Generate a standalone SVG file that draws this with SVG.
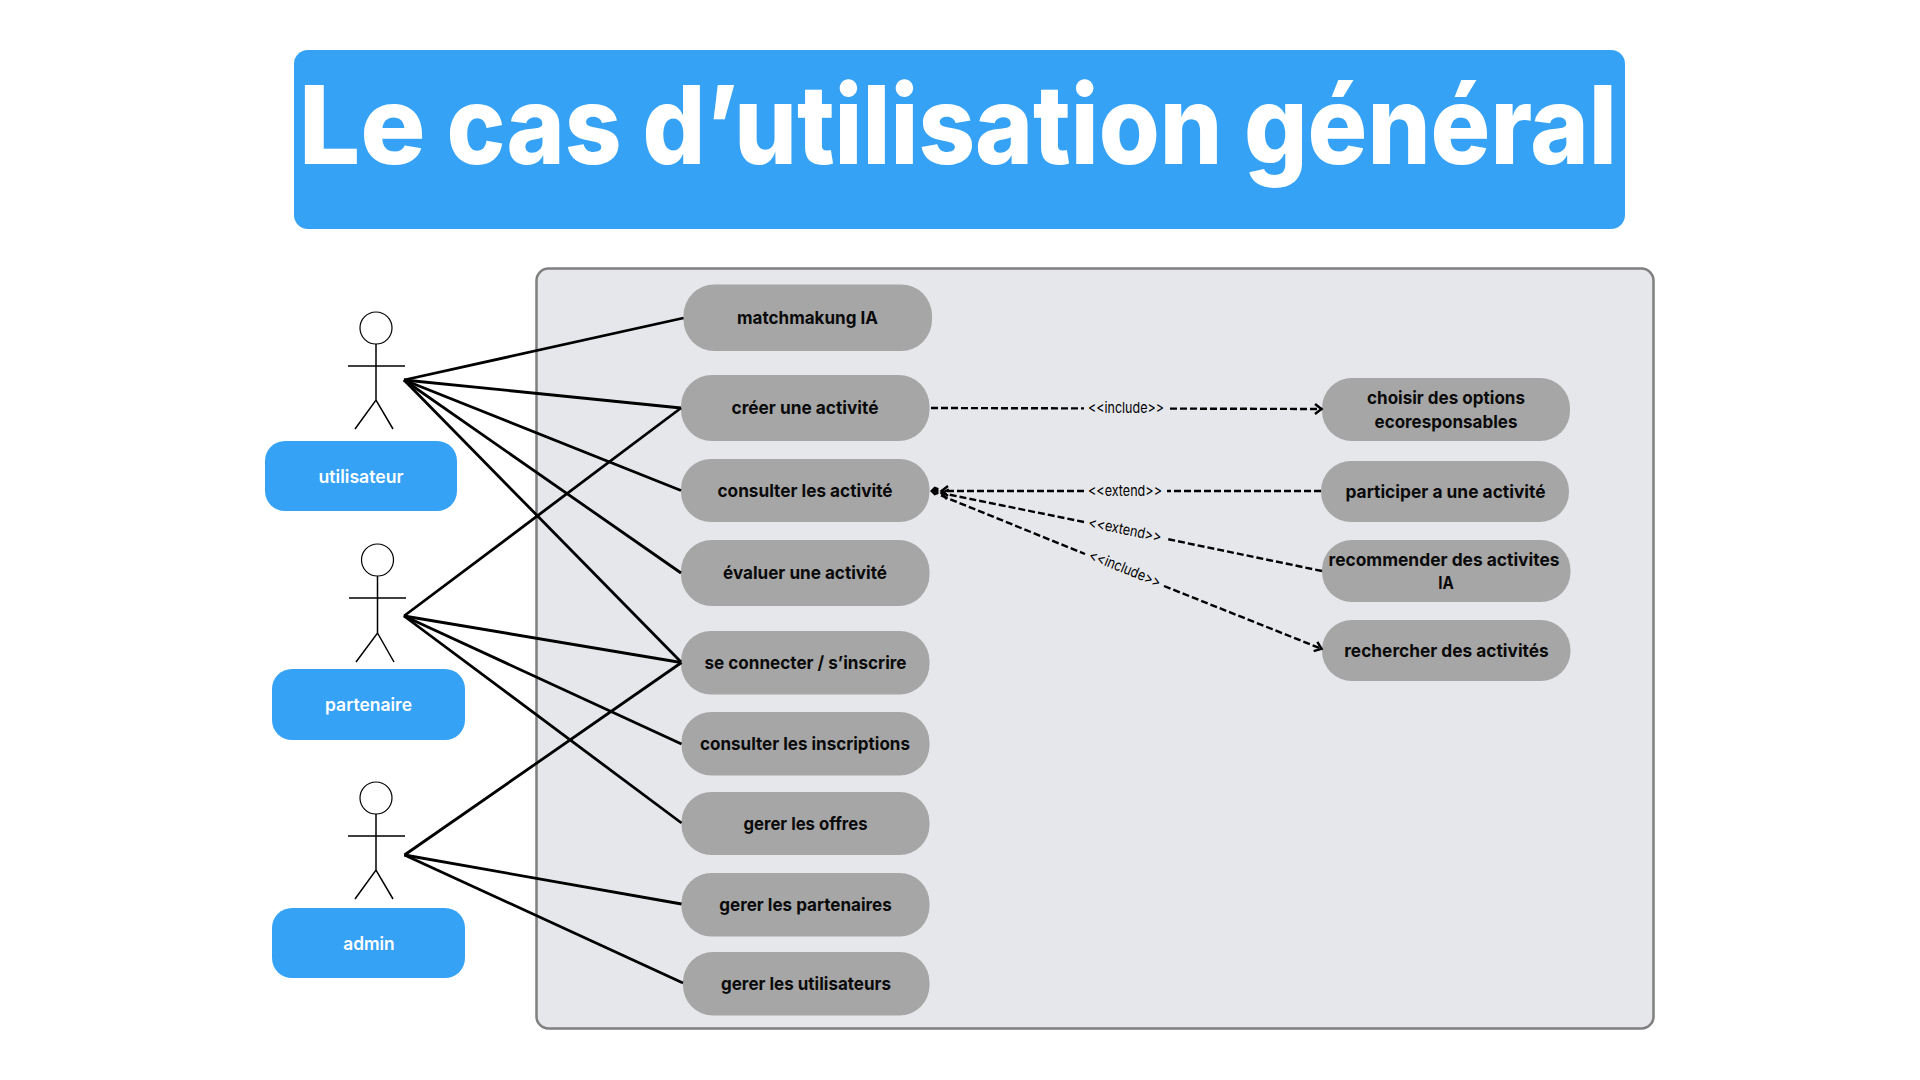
<svg xmlns="http://www.w3.org/2000/svg" width="1920" height="1080" viewBox="0 0 1920 1080">
<style>
text{font-family:"Inter","Liberation Sans",sans-serif;text-anchor:middle}
.t{font-size:109px;font-weight:800;fill:#fff;text-anchor:start}
.u{fill:#a6a6a6}
.ul{font-size:18px;font-weight:700;fill:#0a0a0a;transform:translateY(.5px)}
.b{fill:#36a2f6}
.bl{font-size:18px;font-weight:600;fill:#fff;transform:translateY(.5px)}
.a{fill:none;stroke:#000;stroke-width:1.5}
.ah{fill:#fff;stroke:#000;stroke-width:1.2}
.c line{stroke:#000;stroke-width:2.8}
.d line{stroke:#000;stroke-width:2.4;stroke-dasharray:7 3}
.l{font-size:15px;font-weight:400;fill:#000}
</style>
<defs>
<marker id="h" markerUnits="userSpaceOnUse" markerWidth="12" markerHeight="14" refX="10" refY="7" orient="auto"><path d="M3 2L9.500 7L3 12" fill="none" stroke="#000" stroke-width="2.400"/></marker>
</defs>
<rect width="1920" height="1080" fill="#fff"/>
<g id="title"><rect x="294" y="50" width="1331" height="179" rx="14" class="b"/><text y="163.500" class="t"><tspan x="298.700" textLength="127" lengthAdjust="spacingAndGlyphs">Le</tspan> <tspan x="446.500" textLength="175" lengthAdjust="spacingAndGlyphs">cas</tspan> <tspan x="642.500" textLength="580" lengthAdjust="spacingAndGlyphs">d’utilisation</tspan> <tspan x="1244" textLength="373" lengthAdjust="spacingAndGlyphs">général</tspan></text></g>
<rect id="frame" x="536.500" y="268.500" width="1117" height="760" rx="12" fill="#e6e7eb" stroke="#7f7f7f" stroke-width="2.500"/>
<g id="n1"><rect x="683.500" y="284.500" width="248.500" height="66.500" rx="31" class="u"/><text x="807.500" y="323" class="ul" textLength="141" lengthAdjust="spacingAndGlyphs">matchmakung IA</text></g>
<g id="n2"><rect x="681" y="375" width="248.500" height="66" rx="31" class="u"/><text x="805" y="413" class="ul" textLength="147" lengthAdjust="spacingAndGlyphs">créer une activité</text></g>
<g id="n3"><rect x="681" y="459" width="248.500" height="63" rx="30" class="u"/><text x="805" y="496" class="ul" textLength="175" lengthAdjust="spacingAndGlyphs">consulter les activité</text></g>
<g id="n4"><rect x="681" y="540" width="248.500" height="66" rx="31" class="u"/><text x="805" y="578" class="ul" textLength="164" lengthAdjust="spacingAndGlyphs">évaluer une activité</text></g>
<g id="n5"><rect x="681" y="631" width="248.500" height="63.500" rx="30" class="u"/><text x="805.500" y="668" class="ul" textLength="202" lengthAdjust="spacingAndGlyphs">se connecter / s’inscrire</text></g>
<g id="n6"><rect x="681.500" y="712" width="248" height="63.500" rx="30" class="u"/><text x="805" y="749" class="ul" textLength="210" lengthAdjust="spacingAndGlyphs">consulter les inscriptions</text></g>
<g id="n7"><rect x="681.500" y="792" width="248" height="63" rx="30" class="u"/><text x="805.500" y="829" class="ul" textLength="124" lengthAdjust="spacingAndGlyphs">gerer les offres</text></g>
<g id="n8"><rect x="681.500" y="873" width="248" height="63.500" rx="30" class="u"/><text x="805.500" y="910" class="ul" textLength="172.500" lengthAdjust="spacingAndGlyphs">gerer les partenaires</text></g>
<g id="n9"><rect x="683" y="952" width="246.500" height="63.500" rx="30" class="u"/><text x="806" y="989" class="ul" textLength="170" lengthAdjust="spacingAndGlyphs">gerer les utilisateurs</text></g>
<g id="r1"><rect x="1322" y="378" width="248" height="63" rx="30" class="u"/><text x="1446" y="403" class="ul" textLength="158" lengthAdjust="spacingAndGlyphs">choisir des options</text><text x="1446" y="427" class="ul" textLength="143" lengthAdjust="spacingAndGlyphs">ecoresponsables</text></g>
<g id="r2"><rect x="1321" y="461" width="248" height="61" rx="30" class="u"/><text x="1445.500" y="497" class="ul" textLength="200" lengthAdjust="spacingAndGlyphs">participer a une activité</text></g>
<g id="r3"><rect x="1322" y="540" width="248.500" height="62" rx="30" class="u"/><text x="1444" y="565" class="ul" textLength="231" lengthAdjust="spacingAndGlyphs">recommender des activites</text><text x="1446" y="588" class="ul" textLength="15.600" lengthAdjust="spacingAndGlyphs">IA</text></g>
<g id="r4"><rect x="1322" y="620" width="248.500" height="61" rx="30" class="u"/><text x="1446.500" y="656" class="ul" textLength="204.500" lengthAdjust="spacingAndGlyphs">rechercher des activités</text></g>
<g id="actor1"><ellipse cx="376" cy="328" rx="16" ry="16" class="ah"/><path class="a" d="M376 344V400M348 366H405M355 429L376 400L393 429"/></g>
<g id="actor2"><ellipse cx="377.500" cy="560" rx="16" ry="16" class="ah"/><path class="a" d="M377.500 576V633M349 598H406M356 662L377.500 633L394 662"/></g>
<g id="actor3"><ellipse cx="376" cy="798" rx="16" ry="16" class="ah"/><path class="a" d="M376 814V870M348 836H405M355 899L376 870L393 899"/></g>
<g id="b1"><rect x="265" y="441" width="192" height="70" rx="20" class="b"/><text x="361" y="482" class="bl" textLength="85" lengthAdjust="spacingAndGlyphs">utilisateur</text></g>
<g id="b2"><rect x="272" y="669" width="193" height="71" rx="20" class="b"/><text x="368.500" y="710" class="bl" textLength="87" lengthAdjust="spacingAndGlyphs">partenaire</text></g>
<g id="b3"><rect x="272" y="908" width="193" height="70" rx="20" class="b"/><text x="369" y="949" class="bl" textLength="51.400" lengthAdjust="spacingAndGlyphs">admin</text></g>
<g id="connectors">
<g class="c">
<line x1="404" y1="380" x2="683.500" y2="318"/>
<line x1="404" y1="380" x2="681" y2="408"/>
<line x1="404" y1="380" x2="681" y2="490.500"/>
<line x1="404" y1="380" x2="681" y2="573"/>
<line x1="404" y1="380" x2="681" y2="662"/>
<line x1="404" y1="616" x2="681" y2="408"/>
<line x1="404" y1="616" x2="681" y2="662.500"/>
<line x1="404" y1="616" x2="681.500" y2="744"/>
<line x1="404" y1="616" x2="681.500" y2="823"/>
<line x1="404.500" y1="855" x2="681.500" y2="662.500"/>
<line x1="404.500" y1="855" x2="681.500" y2="904"/>
<line x1="404.500" y1="855" x2="683" y2="983"/>
</g>
<g class="d">
<line x1="931" y1="408" x2="1084" y2="408.400"/>
<line x1="1170" y1="408.600" x2="1322" y2="409" marker-end="url(#h)"/>
<line x1="1321" y1="491" x2="1167" y2="491"/>
<line x1="1084" y1="491" x2="941" y2="491" marker-end="url(#h)"/>
<line x1="1322" y1="571" x2="1167" y2="539"/>
<line x1="1084" y1="522" x2="941" y2="493" marker-end="url(#h)"/>
<line x1="941" y1="495.500" x2="1085" y2="554"/>
<line x1="1164" y1="586" x2="1322" y2="649" marker-end="url(#h)"/>
</g>
<path id="tip" d="M930 491L934.500 486.500L938.500 488V494L934.500 495.500Z" fill="#000"/>
<g id="labels">
<text x="1126" y="412.500" class="l" textLength="76" lengthAdjust="spacingAndGlyphs">&lt;&lt;include&gt;&gt;</text>
<text x="1125" y="495.500" class="l" textLength="74" lengthAdjust="spacingAndGlyphs">&lt;&lt;extend&gt;&gt;</text>
<text class="l" transform="translate(1125 530) rotate(11.500)" y="4.500" textLength="74" lengthAdjust="spacingAndGlyphs">&lt;&lt;extend&gt;&gt;</text>
<text class="l" transform="translate(1125 569) rotate(22)" y="4.500" textLength="76" lengthAdjust="spacingAndGlyphs">&lt;&lt;include&gt;&gt;</text>
</g>
</g>
</svg>
